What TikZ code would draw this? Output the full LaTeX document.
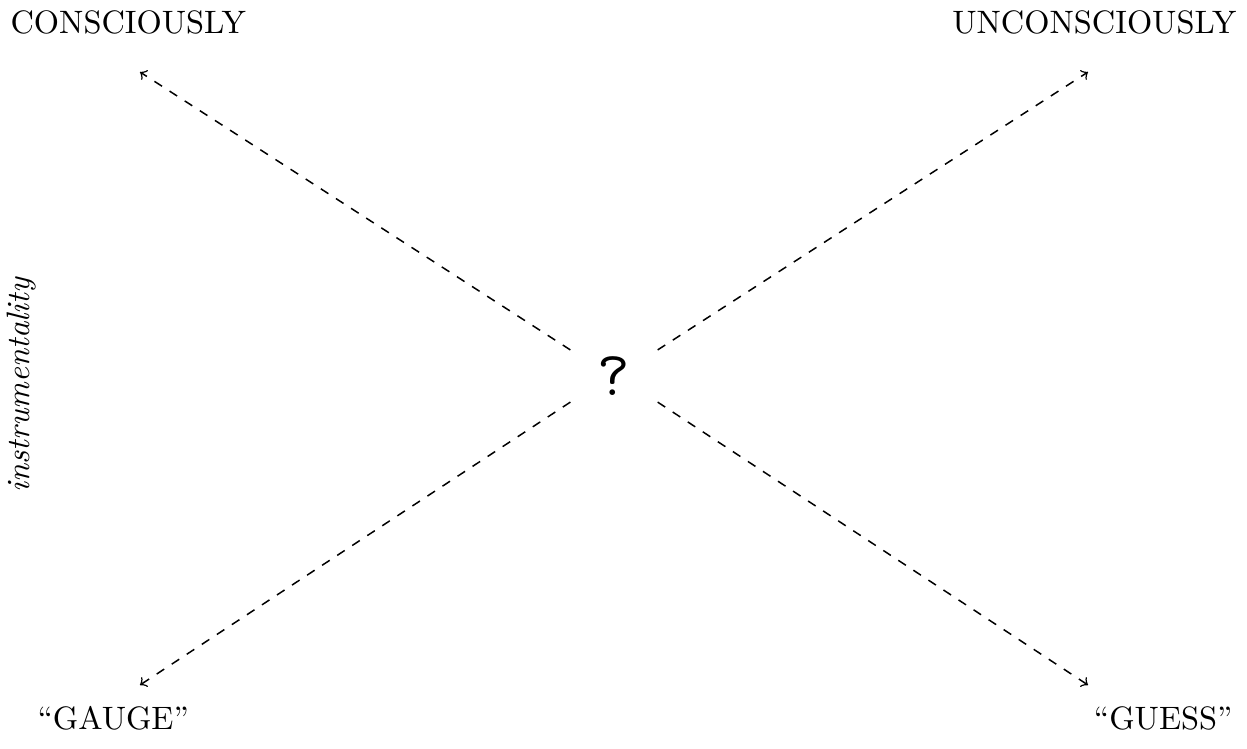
\documentclass[tikz,border=0pt]{standalone}
\begin{document}
\begin{tikzpicture}[x=0.3333pt,y=-0.3333pt,
  lbl/.style={inner sep=0pt, font=\fontsize{10.8}{13}\selectfont},
  conn/.style={dashed, ->, line width=0.5pt}]
\useasboundingbox (0,0) rectangle (1247,748);
\node[lbl, anchor=west] (c) at (10,22) {CONSCIOUSLY};
\node[lbl, anchor=east] (u) at (1237,22) {UNCONSCIOUSLY};
\node[lbl, anchor=west] (g) at (37,718) {``GAUGE''};
\node[lbl, anchor=east] (s) at (1233,718) {``GUESS''};
\node[lbl, rotate=90, font=\fontsize{10.8}{13}\selectfont\itshape] (i) at (22,385) {instrumentality};
\node[inner sep=0pt, minimum width=28.7pt, minimum height=17pt, font=\fontsize{21}{24}\selectfont\ttfamily] (q) at (614,376) {?};
\coordinate (tl) at (140,72);
\coordinate (tr) at (1088,72);
\coordinate (bl) at (140,685);
\coordinate (br) at (1088,685);
\draw[conn] (q.north west) -- (tl);
\draw[conn] (q.north east) -- (tr);
\draw[conn] (q.south west) -- (bl);
\draw[conn] (q.south east) -- (br);
\end{tikzpicture}
\end{document}
